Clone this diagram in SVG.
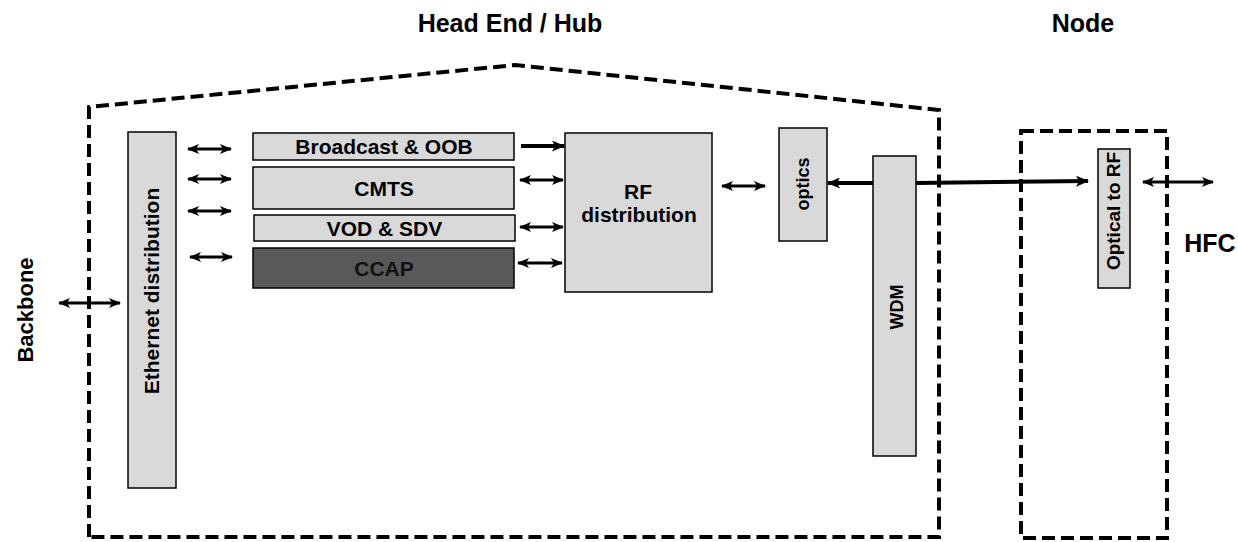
<svg xmlns="http://www.w3.org/2000/svg" width="1238" height="542" viewBox="0 0 1238 542">
<style>
text{font-family:"Liberation Sans",Arial,sans-serif;font-weight:bold;fill:#000}
.t{font-size:25px;text-anchor:middle}
.b{font-size:21px;text-anchor:middle}
.s{font-size:18px;text-anchor:middle}
.box{fill:#d9d9d9;stroke:#000;stroke-width:1.5}
.dark{fill:#595959;stroke:#000;stroke-width:1.5}
.dash{fill:none;stroke:#000;stroke-width:4;stroke-dasharray:13 6}
.ar{stroke:#000;stroke-width:3;fill:none}
.th{stroke:#000;stroke-width:4;fill:none}
</style>
<defs>
<marker id="ah" viewBox="0 0 12 10" refX="11" refY="5" markerWidth="12" markerHeight="10" markerUnits="userSpaceOnUse" orient="auto-start-reverse">
<path d="M0,0 L12,5 L0,10 L3,5 Z" fill="#000"/>
</marker>
<marker id="ahb" viewBox="0 0 13 11" refX="12" refY="5.5" markerWidth="13" markerHeight="11" markerUnits="userSpaceOnUse" orient="auto-start-reverse">
<path d="M0,0 L13,5.5 L0,11 L3,5.5 Z" fill="#000"/>
</marker>
</defs>
<g id="labels">
<text class="t" x="510" y="32">Head End / Hub</text>
<text class="t" x="1083" y="32">Node</text>
<text class="t" x="1210" y="252">HFC</text>
<text class="b" style="font-size:22px" transform="translate(33,310) rotate(-90)" x="0" y="0">Backbone</text>
</g>
<g id="headend-outline">
<path class="dash" d="M89,537 L89,107 L515,65 L939,110 L939,537 Z"/>
</g>
<g id="node-outline">
<rect class="dash" x="1021" y="131" width="146" height="407"/>
</g>
<g id="ethernet">
<rect class="box" x="128" y="132" width="48" height="356"/>
<text class="b" transform="translate(159,291) rotate(-90)">Ethernet distribution</text>
</g>
<g id="broadcast">
<rect class="box" x="253" y="133" width="261" height="27"/>
<text class="b" x="384" y="154">Broadcast &amp; OOB</text>
</g>
<g id="cmts">
<rect class="box" x="253" y="167" width="261" height="42"/>
<text class="b" x="384" y="196">CMTS</text>
</g>
<g id="vod">
<rect class="box" x="254" y="215" width="261" height="26"/>
<text class="b" x="384.5" y="236">VOD &amp; SDV</text>
</g>
<g id="ccap">
<rect class="dark" x="253" y="248" width="261" height="40"/>
<text class="b" x="384" y="276" style="fill:#111">CCAP</text>
</g>
<g id="rf">
<rect class="box" x="565" y="133" width="147" height="159"/>
<text class="b" x="638" y="199">RF</text>
<text class="b" x="639" y="222">distribution</text>
</g>
<g id="optics">
<rect class="box" x="779" y="128" width="48" height="113"/>
<text class="s" transform="translate(809,184) rotate(-90)">optics</text>
</g>
<g id="wdm">
<rect class="box" x="873" y="156" width="43" height="300"/>
<text class="s" transform="translate(903,307) rotate(-90)">WDM</text>
</g>
<g id="optical-to-rf">
<rect class="box" x="1098" y="149" width="32" height="139"/>
<text class="s" style="font-size:19px" transform="translate(1120,211) rotate(-90)">Optical to RF</text>
</g>
<g id="connectors">
<line class="ar" x1="59" y1="303" x2="120" y2="303" marker-start="url(#ah)" marker-end="url(#ah)"/>
<line class="ar" x1="188" y1="149" x2="231" y2="149" marker-start="url(#ah)" marker-end="url(#ah)"/>
<line class="ar" x1="188" y1="179" x2="231" y2="179" marker-start="url(#ah)" marker-end="url(#ah)"/>
<line class="ar" x1="188" y1="211" x2="231" y2="211" marker-start="url(#ah)" marker-end="url(#ah)"/>
<line class="ar" x1="190" y1="257" x2="232" y2="257" marker-start="url(#ah)" marker-end="url(#ah)"/>
<line class="th" x1="521" y1="146" x2="564" y2="146" marker-end="url(#ahb)"/>
<line class="ar" x1="520" y1="180" x2="563" y2="180" marker-start="url(#ah)" marker-end="url(#ah)"/>
<line class="ar" x1="520" y1="227" x2="563" y2="227" marker-start="url(#ah)" marker-end="url(#ah)"/>
<line class="ar" x1="518" y1="263" x2="562" y2="263" marker-start="url(#ah)" marker-end="url(#ah)"/>
<line class="ar" x1="722" y1="186" x2="765" y2="186" marker-start="url(#ah)" marker-end="url(#ah)"/>
<line class="th" x1="873" y1="183" x2="828" y2="183" marker-end="url(#ahb)"/>
<line class="th" x1="916" y1="183" x2="1088" y2="181" marker-end="url(#ahb)"/>
<line class="ar" x1="1143" y1="182" x2="1213" y2="182" marker-start="url(#ah)" marker-end="url(#ah)"/>
</g>
</svg>
